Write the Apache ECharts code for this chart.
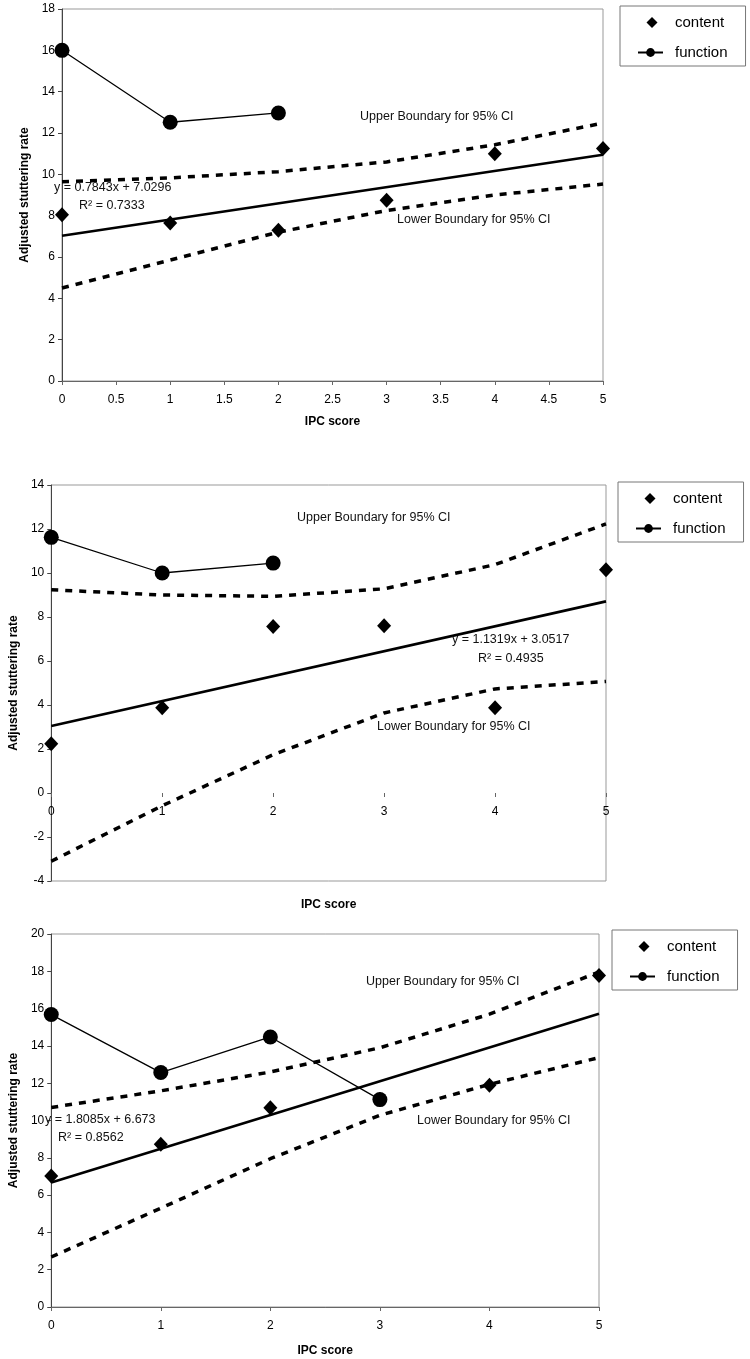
<!DOCTYPE html>
<html><head><meta charset="utf-8">
<script src="https://cdn.jsdelivr.net/npm/echarts@6/dist/echarts.min.js"></script>
<style>html,body{margin:0;padding:0;background:#fff}#c{width:750px;height:1359px}</style>
</head><body><div id="c"></div>
<script>
// ---- data ----
const ipcScores = [0, 1, 2, 3, 4, 5];
const trendX = [0, 5];

// Panel 1
const p1FunctionX = [0, 1, 2];
const p1Function = [16.0, 12.52, 12.97];
const p1Content = [8.05, 7.65, 7.3, 8.75, 11.0, 11.25];
const p1Upper = [9.64, 9.83, 10.13, 10.6, 11.43, 12.48];
const p1Lower = [4.5, 5.85, 7.2, 8.25, 9.0, 9.53];
const p1Trend = [7.03, 10.95];

// Panel 2
const p2FunctionX = [0, 1, 2];
const p2Function = [11.62, 10.0, 10.45];
const p2Content = [2.24, 3.87, 7.57, 7.6, 3.87, 10.15];
const p2Upper = [9.24, 9.0, 8.94, 9.28, 10.38, 12.23];
const p2Lower = [-3.1, -0.58, 1.74, 3.64, 4.73, 5.07];
const p2Trend = [3.05, 8.71];

// Panel 3
const p3FunctionX = [0, 1, 2, 3];
const p3Function = [15.68, 12.57, 14.48, 11.12];
const p3Content = [7.02, 8.73, 10.68, 11.12, 11.89, 17.78];
const p3Upper = [10.7, 11.59, 12.6, 13.9, 15.7, 17.96];
const p3Lower = [2.68, 5.3, 7.95, 10.28, 11.94, 13.37];
const p3Trend = [6.67, 15.72];

const legendNames = ['content', 'function'];
const yTitle = 'Adjusted stuttering rate';
const xTitle = 'IPC score';
const upperText = 'Upper Boundary for 95% CI';
const lowerText = 'Lower Boundary for 95% CI';
const p1Eq = ['y = 0.7843x + 7.0296', 'R\u00B2 = 0.7333'];
const p2Eq = ['y = 1.1319x + 3.0517', 'R\u00B2 = 0.4935'];
const p3Eq = ['y = 1.8085x + 6.673', 'R\u00B2 = 0.8562'];

// ---- helpers ----
const zip = (xs, ys) => xs.map((x, i) => [x, ys[i]]);
const FONT = 'Liberation Sans, Arial, sans-serif';

function panelSeries(idx, fx, fy, content, upper, lower, trend) {
  const base = { xAxisIndex: idx, yAxisIndex: idx, animation: false };
  const dash = { color: '#000', width: 3.5, type: [7, 7] };
  return [
    Object.assign({ type: 'line', name: 'upper' + idx, data: zip(ipcScores, upper), symbol: 'none', lineStyle: dash, z: 2, silent: true }, base),
    Object.assign({ type: 'line', name: 'lower' + idx, data: zip(ipcScores, lower), symbol: 'none', lineStyle: dash, z: 2, silent: true }, base),
    Object.assign({ type: 'line', name: 'trend' + idx, data: zip(trendX, trend), symbol: 'none', lineStyle: { color: '#000', width: 2.6 }, z: 3, silent: true }, base),
    Object.assign({ type: 'scatter', name: 'content', data: zip(ipcScores, content), symbol: 'diamond', symbolSize: [14, 15],
      itemStyle: { color: '#000', opacity: 1 }, z: 4 }, base),
    Object.assign({ type: 'line', name: 'function', data: zip(fx, fy), symbol: 'circle', symbolSize: 15, showAllSymbol: true,
      lineStyle: { color: '#000', width: 1.3 }, itemStyle: { color: '#000', borderWidth: 0, opacity: 1 }, z: 5 }, base)
  ];
}

const grids = [
  { left: 62, top: 9, width: 541, height: 372 },
  { left: 49, top: 485, width: 557, height: 396 },
  { left: 49, top: 934, width: 550, height: 373 }
];
const yRanges = [[0, 18], [-4, 14], [0, 20]];

function xAxis(idx, interval, nameGap, lineColor) {
  const g = grids[idx], r = yRanges[idx];
  // distance from the grid bottom up to the y = 0 line (the axis crosses there)
  const zeroOffset = -g.height * (0 - r[0]) / (r[1] - r[0]);
  return {
    type: 'value', gridIndex: idx, min: 0, max: 5, interval: interval,
    position: 'bottom', offset: zeroOffset,
    name: xTitle, nameLocation: 'middle', nameGap: nameGap,
    nameTextStyle: { fontFamily: FONT, fontWeight: 'bold', fontSize: 12, color: '#000' },
    axisLine: { show: true, onZero: false, lineStyle: { color: lineColor, width: 1 } },
    axisTick: { show: true, length: 4, lineStyle: { color: '#666' } },
    axisLabel: { fontFamily: FONT, fontSize: 12, color: '#000', margin: 13,
      formatter: v => String(Math.round(v * 10) / 10) },
    splitLine: { show: false }
  };
}
function yAxis(idx, nameGap) {
  return {
    type: 'value', gridIndex: idx, min: yRanges[idx][0], max: yRanges[idx][1], interval: 2,
    name: yTitle, nameLocation: 'middle', nameGap: nameGap, nameRotate: 90,
    nameTextStyle: { fontFamily: FONT, fontWeight: 'bold', fontSize: 12, color: '#000' },
    axisLine: { show: true, onZero: false, lineStyle: { color: '#444', width: 1 } },
    axisTick: { show: true, length: 4, lineStyle: { color: '#444' } },
    axisLabel: { fontFamily: FONT, fontSize: 12, color: '#000', margin: 7 },
    splitLine: { show: false }
  };
}

// diamond icon padded inside a 25x11 box so the legend does not stretch it
const diamondIcon = 'path://M0,0L0,0M25,11L25,11M14,0L19.5,5.5L14,11L8.5,5.5Z';

function legend(left, top) {
  return {
    orient: 'vertical', left: left, top: top,
    data: [{ name: 'content', icon: diamondIcon }, { name: 'function' }],
    itemWidth: 25, itemHeight: 11, itemGap: 15,
    padding: [9, 18, 6, 17],
    borderColor: '#777', borderWidth: 1, backgroundColor: '#fff',
    selectedMode: false,
    textStyle: { fontFamily: FONT, fontSize: 15, color: '#000', padding: [0, 0, 0, 7] }
  };
}

function label(x, y, txt) {
  return { type: 'text', left: x, top: y - 8, z: 100,
    style: { text: txt, fontFamily: FONT, fontSize: 12.5, fill: '#111' } };
}

const option = {
  animation: false,
  backgroundColor: '#fff',
  grid: grids.map(g => Object.assign({ show: true, borderColor: '#999', borderWidth: 1, backgroundColor: 'transparent', containLabel: false }, g)),
  xAxis: [xAxis(0, 0.5, 35, '#666'), xAxis(1, 1, 106, 'rgba(0,0,0,0)'), xAxis(2, 1, 38, '#666')],
  yAxis: [yAxis(0, 21), yAxis(1, 31), yAxis(2, 31)],
  legend: [legend(620, 6), legend(618, 482), legend(612, 930)],
  series: [].concat(
    panelSeries(0, p1FunctionX, p1Function, p1Content, p1Upper, p1Lower, p1Trend),
    panelSeries(1, p2FunctionX, p2Function, p2Content, p2Upper, p2Lower, p2Trend),
    panelSeries(2, p3FunctionX, p3Function, p3Content, p3Upper, p3Lower, p3Trend)
  ),
  graphic: [
    label(360, 118, upperText), label(397, 221, lowerText), label(54, 189, p1Eq[0]), label(79, 207, p1Eq[1]),
    label(297, 519, upperText), label(377, 728, lowerText), label(452, 641, p2Eq[0]), label(478, 660, p2Eq[1]),
    label(366, 983, upperText), label(417, 1122, lowerText), label(45, 1121, p3Eq[0]), label(58, 1139, p3Eq[1])
  ]
};

const chart = echarts.init(document.getElementById('c'), null, { renderer: 'canvas' });
chart.setOption(option);
</script>
</body></html>
